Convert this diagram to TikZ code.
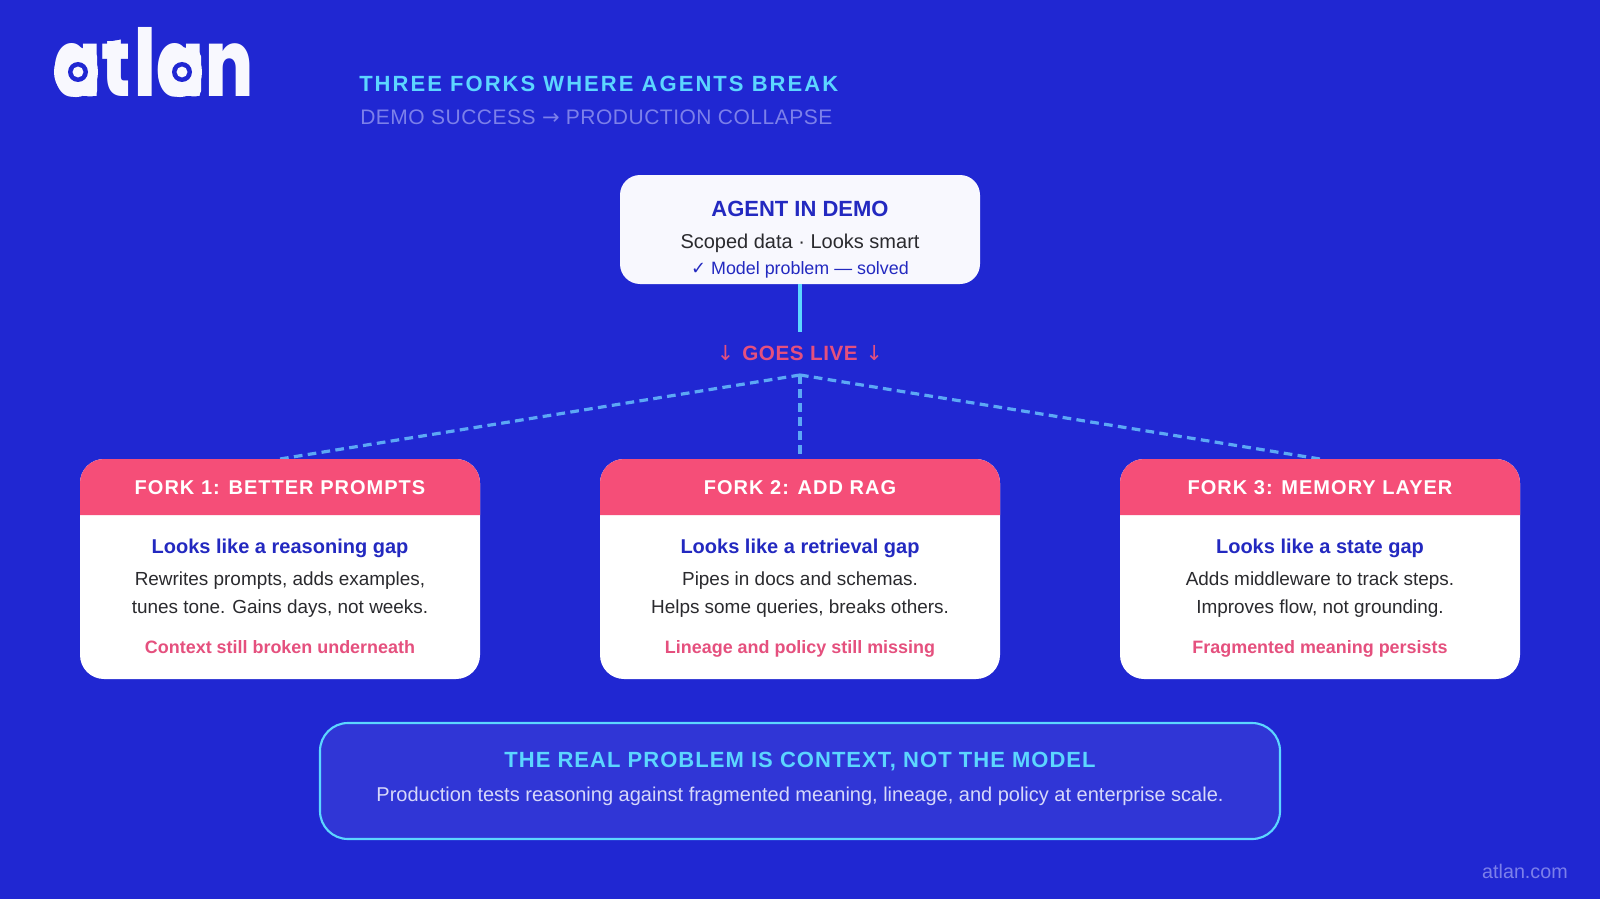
\documentclass[tikz,border=0pt]{standalone}
\usepackage{fontspec}
\setmainfont{Liberation Sans}
\newfontfamily\checkfont{DejaVu Sans}
\newfontfamily\logofont{Poppins}[UprightFont=* ExtraBold,BoldFont=* ExtraBold]
\newcommand\sz[1]{\fontsize{#1}{#1}\selectfont}
\newcommand\ls[1]{\addfontfeature{LetterSpace=#1}}
\definecolor{bgblue}{HTML}{2027D2}
\definecolor{cyanc}{HTML}{5CD6FF}
\definecolor{pinkc}{HTML}{F54E78}
\definecolor{pinkt}{HTML}{E5507E}
\definecolor{mutedc}{HTML}{7C80EA}
\definecolor{paper}{HTML}{F8F8FE}
\definecolor{inkc}{HTML}{2A2A2E}
\definecolor{navyc}{HTML}{2329C0}
\definecolor{dashc}{HTML}{5CA8F5}
\definecolor{panelc}{HTML}{3036D6}
\definecolor{panelt}{HTML}{D6D8FA}
\tikzset{
  lab/.style={anchor=base,inner sep=0pt,outer sep=0pt},
  whitecard/.style={rectangle,fill=white,rounded corners=18pt,minimum width=300pt,minimum height=165pt,inner sep=0pt,outer sep=0pt},
  forkhead/.style={fill=pinkc},
  dashline/.style={draw=dashc,line width=2.4pt,dash pattern=on 6.5pt off 4pt},
  headt/.style={lab,text=white,font=\bfseries\sz{15}\ls{5.1}},
  gapt/.style={lab,text=navyc,font=\bfseries\sz{15}},
  bodyt/.style={lab,text=inkc,font=\sz{14.2}},
  warnt/.style={lab,text=pinkt,font=\bfseries\sz{13.45}},
}
\newcommand\forkcard[7]{% id, cx, head, gap, l1, l2, warn
  \node[whitecard] (card#1) at (#2,569) {};
  \fill[forkhead] (#2-200,515) [rounded corners=18pt] -- (#2-200,459) -- (#2+200,459) [sharp corners] -- (#2+200,515) -- cycle;
  \node[headt] (head#1) at (#2,494) {#3};
  \node[gapt] (gap#1) at (#2,553) {#4};
  \node[bodyt] (la#1) at (#2,585) {#5};
  \node[bodyt] (lb#1) at (#2,613) {#6};
  \node[warnt] (warn#1) at (#2,653) {#7};
}
\newcommand\logoa[1]{% single-storey a with ring counter, centred at x=#1
  \fill[paper] (#1-1,72) ellipse [x radius=16.5pt,y radius=18.8pt];
  \fill[paper,rounded corners=4pt] (#1+6,96.5) -- (#1+6,51) -- (#1+20,51) -- (#1+20,96.5) -- cycle;
  \fill[bgblue] (#1+1,72) circle (7.5pt);
  \fill[paper] (#1+1,72) circle (4.1pt);
}
\begin{document}
\begin{tikzpicture}[x=0.75pt,y=-0.75pt]
\useasboundingbox (0,0) rectangle (1600,899);
\fill[bgblue] (0,0) rectangle (1600,899);
% logo
\node[anchor=base west,inner sep=0pt,outer sep=0pt,text=paper,font=\logofont\sz{70},xscale=.75,transform shape] (logo) at (53,97) {a\kern1pt t\kern3pt l\kern1pt a\kern1pt n};
\fill[bgblue] (104,26) -- (135,26) -- (135,37) -- (112,41) -- (104,41) -- cycle;
\logoa{77}
\logoa{181}
% titles
\node[anchor=base west,inner sep=0pt,text=cyanc,font=\bfseries\sz{16.5}\ls{9.3}] (title) at (359,92) {THREE FORKS WHERE AGENTS BREAK};
\node[anchor=base west,inner sep=0pt,text=mutedc,font=\sz{15.75}\ls{2.4}] (subtitle) at (360,124) {DEMO SUCCESS {\checkfont →} PRODUCTION COLLAPSE};
% coordinates
\coordinate (livetop) at (800,332);
\coordinate (hub) at (800,375);
% demo
\node[rectangle,fill=paper,rounded corners=15pt,minimum width=270pt,minimum height=81.75pt,inner sep=0pt,outer sep=0pt] (demo) at (800,229.5) {};
\node[lab,text=navyc,font=\bfseries\sz{16.5}] (demotitle) at (800,216) {AGENT IN DEMO};
\node[lab,text=inkc,font=\sz{15}] (demobody) at (800,248) {Scoped data · Looks smart};
\node[lab,text=navyc,font=\sz{13.4}] (democheck) at (800,274.5) {{\checkfont\bfseries ✓} Model problem — solved};
\draw[cyanc,line width=3pt] (demo.south) -- (livetop);
\node[lab,text=pinkt,font=\bfseries\sz{15.5}\ls{2.8}] (live) at (800,360) {{\checkfont\mdseries ↓}\hspace{6pt}GOES LIVE\hspace{6pt}{\checkfont\mdseries ↓}};
% dashed
\draw[dashline] (hub) -- (280,459);
\draw[dashline] (hub) -- (1320,459);
\draw[dashline] (hub) -- (800,455);
% cards
\forkcard{1}{280}{FORK 1: BETTER PROMPTS}{Looks like a reasoning gap}{Rewrites prompts, adds examples,}{tunes tone. Gains days, not weeks.}{Context still broken underneath}
\forkcard{2}{800}{FORK 2: ADD RAG}{Looks like a retrieval gap}{Pipes in docs and schemas.}{Helps some queries, breaks others.}{Lineage and policy still missing}
\forkcard{3}{1320}{FORK 3: MEMORY LAYER}{Looks like a state gap}{Adds middleware to track steps.}{Improves flow, not grounding.}{Fragmented meaning persists}
% panel
\node[rectangle,draw=cyanc,fill=panelc,line width=1.6pt,rounded corners=21pt,minimum width=720pt,minimum height=87pt,inner sep=0pt] (panel) at (800,781) {};
\node[lab,text=cyanc,font=\bfseries\sz{16.5}\ls{4.7}] (paneltitle) at (800,767) {THE REAL PROBLEM IS CONTEXT, NOT THE MODEL};
\node[lab,text=panelt,font=\sz{15}] (panelbody) at (800,801) {Production tests reasoning against fragmented meaning, lineage, and policy at enterprise scale.};
\node[anchor=base east,inner sep=0pt,text=mutedc,font=\sz{14.8}] (site) at (1568,878.5) {atlan.com};
\end{tikzpicture}
\end{document}
